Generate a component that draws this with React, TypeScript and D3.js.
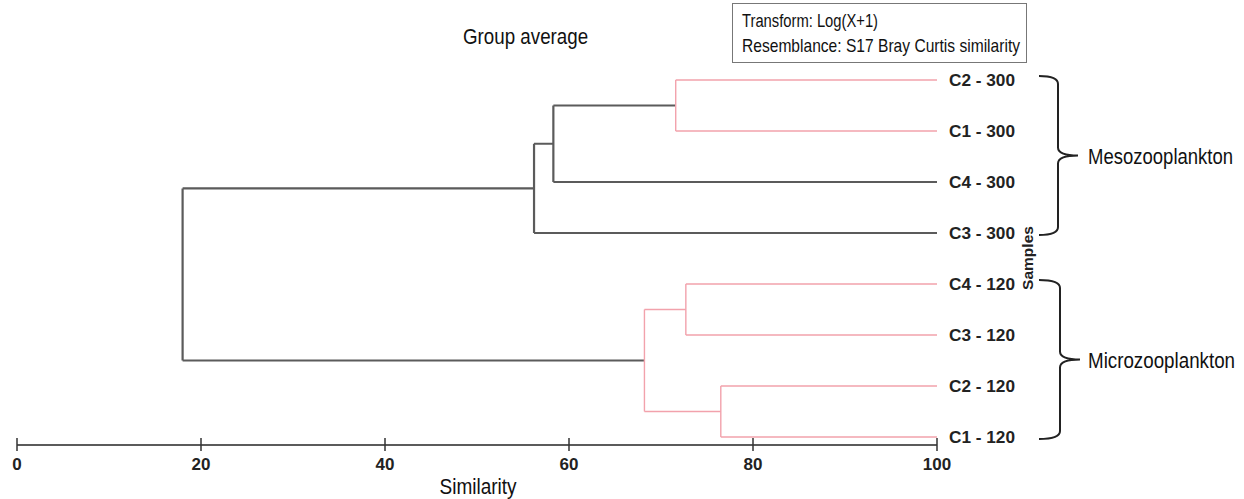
import React, { useLayoutEffect, useRef, useState } from "react";
import * as d3 from "d3";

const leafNames = ["C2 - 300", "C1 - 300", "C4 - 300", "C3 - 300", "C4 - 120", "C3 - 120", "C2 - 120", "C1 - 120"];
const clusterNames = ["A", "B", "C", "D", "E", "F", "root"];
const clusterChildren = [
  ["C2 - 300", "C1 - 300"],
  ["A", "C4 - 300"],
  ["B", "C3 - 300"],
  ["C4 - 120", "C3 - 120"],
  ["C2 - 120", "C1 - 120"],
  ["D", "E"],
  ["C", "F"],
];
const clusterSimilarity = [71.6, 58.3, 56.2, 72.7, 76.5, 68.2, 18.0];
const clusterSimprofSame = [true, false, false, true, true, true, false];
const axisTicks = [0, 20, 40, 60, 80, 100];
const groupNames = ["Mesozooplankton", "Microzooplankton"];
const groupLeaves = [
  ["C2 - 300", "C1 - 300", "C4 - 300", "C3 - 300"],
  ["C4 - 120", "C3 - 120", "C2 - 120", "C1 - 120"],
];
const legendLines = ["Transform: Log(X+1)", "Resemblance: S17 Bray Curtis similarity"];

const SANS = "'Liberation Sans', Arial, sans-serif";
const GRAY = "#5b5b5b";
const PINK = "#f2a2ac";

// condensed text: regular Liberation Sans squeezed horizontally to the narrow width seen in the reference
function Narrow(props: { x: number; y: number; w: number; size: number; anchor?: "start" | "middle"; children: string }) {
  const { x, y, w, size, anchor = "start", children } = props;
  const ref = useRef<SVGTextElement>(null);
  const [k, setK] = useState(0.84);
  useLayoutEffect(() => {
    const L = ref.current ? ref.current.getComputedTextLength() : 0;
    if (L > 0) setK(w / L);
  }, [w, size, children]);
  const x0 = anchor === "middle" ? x - w / 2 : x;
  return (
    <text ref={ref} transform={`translate(${x0},${y}) scale(${k},1)`} fontFamily={SANS} fontSize={size} fill="#111">
      {children}
    </text>
  );
}

export default function App() {
  const W = 1244, H = 499;
  const x = d3.scaleLinear().domain([0, 100]).range([17, 937]);
  const y = d3.scalePoint<string>().domain(leafNames).range([80, 437]);

  type N = { name: string; sim: number; same: boolean; children?: N[] };
  const map = new Map<string, N>();
  leafNames.forEach((n) => map.set(n, { name: n, sim: 100, same: false }));
  clusterNames.forEach((n, i) => {
    map.set(n, {
      name: n,
      sim: clusterSimilarity[i],
      same: clusterSimprofSame[i],
      children: clusterChildren[i].map((c) => map.get(c)!),
    });
  });
  const root = d3.hierarchy<N>(map.get("root")!);
  const ypos = new Map<any, number>();
  root.eachAfter((nd) => {
    if (!nd.children) ypos.set(nd, y(nd.data.name)!);
    else {
      const ys = nd.children.map((c) => ypos.get(c)!);
      ypos.set(nd, (d3.min(ys)! + d3.max(ys)!) / 2);
    }
  });

  const segs: { d: string; pink: boolean }[] = [];
  root.each((nd) => {
    if (!nd.children) return;
    const px = x(nd.data.sim);
    const ys = nd.children.map((c) => ypos.get(c)!);
    const path = d3.path();
    path.moveTo(px, d3.min(ys)!);
    path.lineTo(px, d3.max(ys)!);
    nd.children.forEach((c) => {
      path.moveTo(px, ypos.get(c)!);
      path.lineTo(x(c.data.sim), ypos.get(c)!);
    });
    segs.push({ d: path.toString(), pink: nd.data.same });
  });
  segs.sort((a, b) => Number(a.pink) - Number(b.pink));

  const braces = groupLeaves.map((g, i) => {
    const y0 = y(g[0])! - 4;
    const y1 = y(g[g.length - 1])! + 2;
    const ym = (y0 + y1) / 2;
    const xl = 1039, xv = 1058 + i * 2, xt = 1078 + i * 2;
    const r = 8;
    const d = `M${xl},${y0} Q${xv},${y0} ${xv},${y0 + r} L${xv},${ym - r} Q${xv},${ym} ${xt},${ym} Q${xv},${ym} ${xv},${ym + r} L${xv},${y1 - r} Q${xv},${y1} ${xl},${y1}`;
    return { d, ym, name: groupNames[i] };
  });

  return (
    <svg width={W} height={H} style={{ display: "block", position: "absolute", left: 0, top: 0, background: "#fff" }}>
      <rect width={W} height={H} fill="#fff" />
      <Narrow x={463} y={44} w={125} size={22}>Group average</Narrow>
      <rect x={732.5} y={3.5} width={294} height={59} fill="#fff" stroke="#777" strokeWidth={1} />
      <Narrow x={742} y={27} w={136} size={18}>{legendLines[0]}</Narrow>
      <Narrow x={742} y={52} w={278} size={18}>{legendLines[1]}</Narrow>
      {segs.map((s, i) => (
        <path key={i} d={s.d} fill="none" stroke={s.pink ? PINK : GRAY} strokeWidth={s.pink ? 1.4 : 2.2} />
      ))}
      {leafNames.map((n) => (
        <text key={n} x={949} y={y(n)! + 6} fontFamily={SANS} fontWeight="bold" fontSize={16.5} fill="#222" textLength={66} lengthAdjust="spacingAndGlyphs">{n}</text>
      ))}
      <text transform={`translate(1033,258) rotate(-90)`} textAnchor="middle" fontFamily={SANS} fontWeight="bold" fontSize={15.5} fill="#222">Samples</text>
      {braces.map((b, i) => (
        <g key={b.name}>
          <path d={b.d} fill="none" stroke="#222" strokeWidth={2} />
          <Narrow x={1088} y={b.ym + 8} w={i === 0 ? 145 : 147} size={22}>{b.name}</Narrow>
        </g>
      ))}
      <line x1={x(0)} x2={x(100)} y1={445} y2={445} stroke={GRAY} strokeWidth={2} />
      {axisTicks.map((t) => (
        <g key={t}>
          <line x1={x(t)} x2={x(t)} y1={438} y2={451} stroke="#333" strokeWidth={1.5} />
          <text x={x(t)} y={470} textAnchor="middle" fontFamily={SANS} fontWeight="bold" fontSize={17} fill="#222">{t}</text>
        </g>
      ))}
      <Narrow x={478} y={494} w={77} size={22} anchor="middle">Similarity</Narrow>
    </svg>
  );
}
